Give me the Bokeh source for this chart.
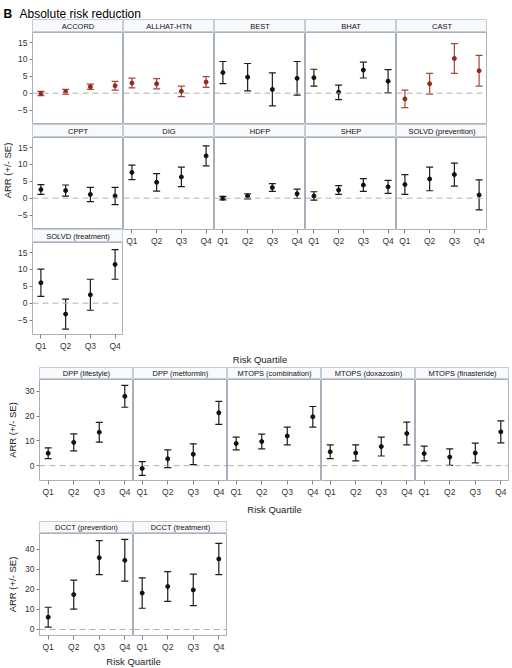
import math
from bokeh.plotting import figure
from bokeh.layouts import column, row
from bokeh.models import Range1d, FixedTicker, LinearAxis, Span, Whisker, TeeHead, ColumnDataSource
from bokeh.core.properties import value
from bokeh.embed import file_html
from bokeh.resources import INLINE

FONT = "Liberation Sans"

quartiles = ["Q1", "Q2", "Q3", "Q4"]

# ---- Section 1 ----
sec1_studies = ["ACCORD", "ALLHAT-HTN", "BEST", "BHAT", "CAST",
                "CPPT", "DIG", "HDFP", "SHEP", "SOLVD (prevention)",
                "SOLVD (treatment)"]
sec1_arr = [
    [-0.1, 0.4, 1.9, 2.2],
    [3.0, 2.8, 0.55, 3.3],
    [6.1, 4.75, 1.1, 4.4],
    [4.6, 0.25, 6.85, 3.55],
    [-1.7, 2.8, 10.3, 6.65],
    [2.55, 2.25, 1.1, 0.65],
    [7.65, 4.7, 6.3, 12.55],
    [0.0, 0.55, 3.15, 1.3],
    [0.65, 2.4, 3.9, 3.35],
    [4.05, 5.7, 7.0, 0.95],
    [6.05, -3.25, 2.5, 11.5],
]
sec1_se = [
    [0.65, 0.7, 0.8, 1.3],
    [1.45, 1.5, 1.55, 1.6],
    [3.3, 4.05, 4.9, 5.0],
    [2.5, 2.15, 2.35, 3.45],
    [2.6, 3.1, 4.4, 4.55],
    [1.45, 1.65, 2.1, 2.55],
    [2.15, 2.6, 2.9, 2.95],
    [0.5, 0.75, 1.15, 1.4],
    [1.25, 1.3, 1.9, 1.95],
    [2.95, 3.5, 3.4, 4.45],
    [4.05, 4.45, 4.6, 4.4],
]
sec1_yticks = [-5, 0, 5, 10, 15]
sec1_yrange = (-9.3, 18.0)

# ---- Section 2 ----
sec2_studies = ["DPP (lifestyle)", "DPP (metformin)", "MTOPS (combination)",
                "MTOPS (doxazosin)", "MTOPS (finasteride)"]
sec2_arr = [
    [5.0, 9.4, 13.5, 28.0],
    [-1.15, 2.8, 4.6, 21.35],
    [8.95, 9.75, 12.0, 19.75],
    [5.6, 5.15, 7.7, 13.0],
    [4.9, 3.45, 5.1, 13.65],
]
sec2_se = [
    [2.2, 3.4, 4.0, 4.4],
    [2.75, 3.6, 4.2, 4.65],
    [2.55, 2.95, 3.6, 4.15],
    [2.8, 3.25, 3.8, 4.6],
    [3.0, 3.35, 4.0, 4.45],
]
sec2_yticks = [0, 10, 20, 30]
sec2_yrange = (-6.0, 34.8)

# ---- Section 3 ----
sec3_studies = ["DCCT (prevention)", "DCCT (treatment)"]
sec3_arr = [
    [6.15, 17.4, 35.85, 34.55],
    [18.2, 21.45, 19.75, 35.2],
]
sec3_se = [
    [4.95, 7.2, 8.45, 10.45],
    [7.6, 7.45, 7.85, 7.8],
]
sec3_yticks = [0, 10, 20, 30, 40]
sec3_yrange = (-3.0, 47.9)

red_studies = ["ACCORD", "ALLHAT-HTN", "CAST"]

title_letter = "B"
title_text = "Absolute risk reduction"
y_label = "ARR (+/- SE)"
x_label = "Risk Quartile"

RED_PT, RED_BAR = "#962718", "#a8453a"
BLK_PT, BLK_BAR = "#111111", "#1c1c1c"
OUTLINE = "#a7b1bd"
HDR_FILL = "#f8f9fb"
HDR_LINE = "#c5ccd6"
XPAD = 0.34
LBL_SIZE = "9.5px"


def base_fig(fw, fh, xr, yr, left=0, bottom=0):
    p = figure(frame_width=fw, frame_height=fh, x_range=xr, y_range=yr,
               x_axis_type=None, y_axis_type=None, title=None,
               toolbar_location=None, output_backend="svg",
               min_border_left=left, min_border_right=0,
               min_border_top=0, min_border_bottom=bottom)
    p.border_fill_color = "white"
    p.background_fill_color = "white"
    p.outline_line_color = None
    return p


def make_header(name, fw, fh, left=0):
    xr = Range1d(0, 1)
    yr = Range1d(0, 1)
    h = base_fig(fw, fh, xr, yr, left=left)
    h.background_fill_color = HDR_FILL
    h.outline_line_color = HDR_LINE
    h.text(x=[(xr.start + xr.end) / 2], y=[(yr.start + yr.end) / 2], text=[name],
           text_align="center", text_baseline="middle",
           text_font=value(FONT), text_font_size="7.5px", text_color="#111111")
    return h


def style_axis(ax):
    ax.axis_line_color = None
    ax.major_tick_line_color = "#808080"
    ax.major_tick_in = 0
    ax.major_tick_out = 3
    ax.minor_tick_line_color = None
    ax.major_label_text_font = FONT
    ax.major_label_text_font_size = "8.5px"
    ax.major_label_text_color = "#333333"
    ax.major_label_standoff = 2
    ax.axis_label_text_font = FONT
    ax.axis_label_text_font_size = LBL_SIZE
    ax.axis_label_text_font_style = "normal"
    ax.axis_label_text_color = "#222222"
    ax.axis_label_standoff = 4


def make_panel(name, vals, ses, fw, fh, yr, yticks, left_axis=False, bottom_axis=False,
               ylabel=None, left=0, bottom=0):
    n = len(quartiles)
    xr = Range1d(1 - XPAD, n + XPAD)
    p = base_fig(fw, fh, xr, Range1d(*yr), left=left, bottom=bottom)
    p.outline_line_color = OUTLINE
    p.outline_line_width = 1
    red = name in red_studies
    cpt = RED_PT if red else BLK_PT
    cbar = RED_BAR if red else BLK_BAR
    p.add_layout(Span(location=0, dimension="width", line_color="#b0b0b0",
                      line_dash="6 4", line_width=1))
    xs = list(range(1, n + 1))
    src = ColumnDataSource(dict(x=xs, y=vals,
                                lower=[v - s for v, s in zip(vals, ses)],
                                upper=[v + s for v, s in zip(vals, ses)]))
    w = Whisker(base="x", lower="lower", upper="upper", source=src,
                line_color=cbar, line_width=1.2,
                upper_head=TeeHead(size=7, line_color=cbar, line_width=1.2),
                lower_head=TeeHead(size=7, line_color=cbar, line_width=1.2))
    p.add_layout(w)
    p.scatter("x", "y", source=src, size=4, marker="circle", color=cpt)
    if left_axis:
        ax = LinearAxis(ticker=FixedTicker(ticks=yticks))
        style_axis(ax)
        if ylabel:
            ax.axis_label = ylabel
        p.add_layout(ax, "left")
    if bottom_axis:
        ax = LinearAxis(ticker=FixedTicker(ticks=xs),
                        major_label_overrides={i: q for i, q in zip(xs, quartiles)})
        style_axis(ax)
        ax.major_tick_out = 4
        p.add_layout(ax, "below")
    return p


def label_fig(text, fw, fh, left, ypos, angle=0.0):
    # ypos: pixel distance of the text centre from the bottom of the figure
    xr = Range1d(0, fw)
    yr = Range1d(0, fh)
    f = base_fig(fw, fh, xr, yr, left=left)
    f.text(x=[(xr.start + xr.end) / 2], y=[ypos], text=[text], angle=angle,
           text_align="center", text_baseline="middle",
           text_font=value(FONT), text_font_size=LBL_SIZE, text_color="#222222")
    return f


# ---- title ----
TW, TH = 505, 19
txr = Range1d(0, TW)
tyr = Range1d(0, TH)
tfig = base_fig(TW, TH, txr, tyr)
tfig.text(x=[3], y=[6], text=[title_letter], text_baseline="alphabetic",
          text_font=value(FONT), text_font_size="12px", text_font_style="bold",
          text_color="#000000")
tfig.text(x=[19], y=[6], text=[title_text], text_baseline="alphabetic",
          text_font=value(FONT), text_font_size="12px", text_color="#000000")

# ---- Section 1 layout ----
FW1, FH1, HH1, XB = 91, 92, 13, 17
L1 = 18
cols1 = []
for c in range(5):
    left = L1 if c == 0 else 0
    items = []
    top_name = sec1_studies[c]
    items.append(make_header(top_name, FW1, HH1, left))
    items.append(make_panel(top_name, sec1_arr[c], sec1_se[c], FW1, FH1, sec1_yrange,
                            sec1_yticks, left_axis=(c == 0), left=left))
    mid = 5 + c
    mid_name = sec1_studies[mid]
    items.append(make_header(mid_name, FW1, HH1, left))
    items.append(make_panel(mid_name, sec1_arr[mid], sec1_se[mid], FW1, FH1, sec1_yrange,
                            sec1_yticks, left_axis=(c == 0), bottom_axis=(c != 0),
                            left=left, bottom=(XB if c != 0 else 0)))
    if c == 0:
        last = 10
        last_name = sec1_studies[last]
        items.append(make_header(last_name, FW1, HH1, left))
        items.append(make_panel(last_name, sec1_arr[last], sec1_se[last], FW1, FH1,
                                sec1_yrange, sec1_yticks, left_axis=True, bottom_axis=True,
                                left=left, bottom=XB))
    cols1.append(column(*items, spacing=0))
SEC1_H = 3 * (HH1 + FH1) + XB
ylab1 = label_fig(y_label, 14, SEC1_H, 0, SEC1_H - 151, angle=math.pi / 2)
sec1 = row(ylab1, *cols1, spacing=0)
lab1 = label_fig(x_label, FW1 * 5, 14, 32, 8)

# ---- Section 2 layout ----
FW2, FH2, HH2 = 94, 101, 12
L2 = 39
cols2 = []
for c, name in enumerate(sec2_studies):
    left = L2 if c == 0 else 0
    hdr = make_header(name, FW2, HH2, left)
    pan = make_panel(name, sec2_arr[c], sec2_se[c], FW2, FH2, sec2_yrange, sec2_yticks,
                     left_axis=(c == 0), bottom_axis=True,
                     ylabel=(y_label if c == 0 else None),
                     left=left, bottom=XB)
    cols2.append(column(hdr, pan, spacing=0))
sec2 = row(*cols2, spacing=0)
lab2 = label_fig(x_label, FW2 * 5, 22, L2, 12)

# ---- Section 3 layout ----
FW3, FH3, HH3 = 94, 102, 12
cols3 = []
for c, name in enumerate(sec3_studies):
    left = L2 if c == 0 else 0
    hdr = make_header(name, FW3, HH3, left)
    pan = make_panel(name, sec3_arr[c], sec3_se[c], FW3, FH3, sec3_yrange, sec3_yticks,
                     left_axis=(c == 0), bottom_axis=True,
                     ylabel=(y_label if c == 0 else None),
                     left=left, bottom=XB)
    cols3.append(column(hdr, pan, spacing=0))
sec3 = row(*cols3, spacing=0)
lab3 = label_fig(x_label, FW3 * 2, 14, L2, 7)

layout = column(row(tfig), sec1, row(lab1), sec2, row(lab2), sec3, row(lab3),
                spacing=0)

open("out.html", "w").write(file_html(layout, INLINE))
